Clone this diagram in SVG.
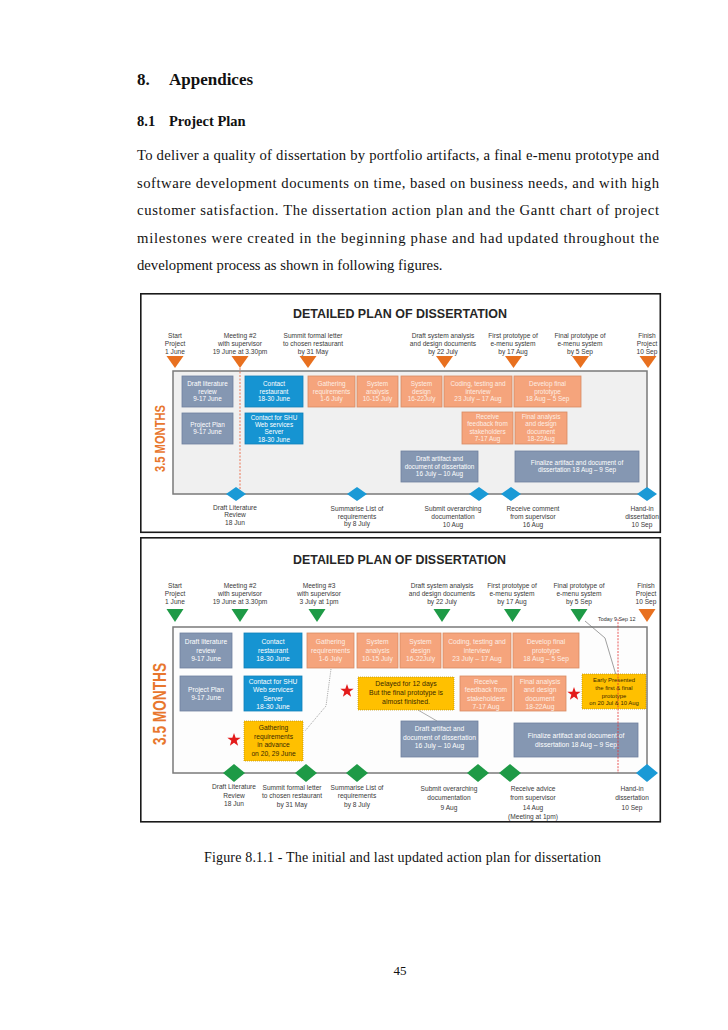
<svg xmlns="http://www.w3.org/2000/svg" xmlns:xlink="http://www.w3.org/1999/xlink" width="728" height="1030" viewBox="0 0 728 1030">
<style>
.pg{font-family:"Liberation Serif","Times New Roman",serif;fill:#111}
.h{font-weight:bold}
.ttl{font-family:"Liberation Sans",Arial,sans-serif;font-weight:bold;font-size:13px;fill:#262626}
.ml{font-family:"Liberation Sans",Arial,sans-serif;font-size:6.6px;fill:#3a3a3a;text-anchor:middle}
.td{font-family:"Liberation Sans",Arial,sans-serif;font-size:5.4px;fill:#333}
.bt{font-family:"Liberation Sans",Arial,sans-serif;font-size:6.4px;fill:#fff;text-anchor:middle}
.bt2{font-family:"Liberation Sans",Arial,sans-serif;font-size:6.7px;fill:#fff;text-anchor:middle}
.yt{font-family:"Liberation Sans",Arial,sans-serif;font-size:6.9px;fill:#3a2a00;text-anchor:middle}
.ys{font-size:5.9px}
.ya{font-size:6.7px}
.mo{font-family:"Liberation Sans",Arial,sans-serif;font-weight:bold;fill:#e8772e}
.slate{fill:#8597b2;stroke:#6e819e;stroke-width:0.8}
.blue{fill:#1694d2;stroke:#0f7fb8;stroke-width:0.8}
.sal{fill:#f5a47c;stroke:#d88a62;stroke-width:0.8}
.salt{fill:#fdeee4}
.yel{fill:#ffc000;stroke:#b88c00;stroke-width:0.7;stroke-dasharray:1 1}
.frame{fill:#fff;stroke:#1a1a1a;stroke-width:1.6}
.area{stroke:#7a7a7a;stroke-width:1.5}
.otri{fill:#e8701f}
.gtri{fill:#1e9a46}
.bdia{fill:#1a9ad6}
.gdia{fill:#1e9a46}
.red{fill:#e31b1b}
</style>
<defs>
<polygon id="star" points="0,-7 1.646,-2.265 6.657,-2.163 2.663,0.865 4.114,5.663 0,2.8 -4.114,5.663 -2.663,0.865 -6.657,-2.163 -1.646,-2.265"/>
</defs>
<rect width="728" height="1030" fill="#fff"/>

<g id="page-text">
<text class="pg h" x="137" y="85" font-size="17">8.</text>
<text class="pg h" x="169" y="85" font-size="17">Appendices</text>
<text class="pg h" x="137" y="126" font-size="14.5">8.1</text>
<text class="pg h" x="169" y="126" font-size="14.5">Project Plan</text>
<text class="pg" font-size="14.7" x="137" y="160" textLength="522" lengthAdjust="spacing">To deliver a quality of dissertation by portfolio artifacts, a final e-menu prototype and</text>
<text class="pg" font-size="14.7" x="137" y="187.5" textLength="522" lengthAdjust="spacing">software development documents on time, based on business needs, and with high</text>
<text class="pg" font-size="14.7" x="137" y="215" textLength="522" lengthAdjust="spacing">customer satisfaction. The dissertation action plan and the Gantt chart of project</text>
<text class="pg" font-size="14.7" x="137" y="242.5" textLength="522" lengthAdjust="spacing">milestones were created in the beginning phase and had updated throughout the</text>
<text class="pg" font-size="14.7" x="137" y="270">development process as shown in following figures.</text>
<text class="pg" font-size="14" x="204" y="862" textLength="397" lengthAdjust="spacing">Figure 8.1.1 - The initial and last updated action plan for dissertation</text>
<text class="pg" font-size="13" x="400" y="975" text-anchor="middle">45</text>
</g>

<!-- ================= DIAGRAM 1 ================= -->
<g id="diagram1">
<rect class="frame" x="140.8" y="293.8" width="519.5" height="238.5"/>
<text class="ttl" x="293" y="318" textLength="214" lengthAdjust="spacingAndGlyphs">DETAILED PLAN OF DISSERTATION</text>
<rect class="area" x="173" y="371" width="474" height="123" fill="#f0f0f0"/>
<text class="mo" font-size="15" transform="translate(165,472) rotate(-90)" textLength="67" lengthAdjust="spacingAndGlyphs">3.5 MONTHS</text>
</g>

<g id="d1-connectors" fill="none">
<line x1="240" y1="368" x2="240" y2="494" stroke="#e8552f" stroke-width="0.8" stroke-dasharray="2 1.5"/>
</g>

<g id="d1-milestones">
<g id="d1-m1"><polygon class="otri" points="166.5,356 183.5,356 175,368"/><text class="ml" x="175" y="337.5">Start</text><text class="ml" x="175" y="345.5">Project</text><text class="ml" x="175" y="353.5">1 June</text></g>
<g id="d1-m2"><polygon class="otri" points="231.5,356 248.5,356 240,368"/><text class="ml" x="240" y="337.5">Meeting #2</text><text class="ml" x="240" y="345.5">with supervisor</text><text class="ml" x="240" y="353.5">19 June at 3.30pm</text></g>
<g id="d1-m3"><polygon class="otri" points="299.5,356 316.5,356 308,368"/><text class="ml" x="313" y="337.5">Summit formal letter</text><text class="ml" x="313" y="345.5">to chosen restaurant</text><text class="ml" x="313" y="353.5">by 31  May</text></g>
<g id="d1-m4"><polygon class="otri" points="436,356 453,356 444.5,368"/><text class="ml" x="443" y="337.5">Draft system analysis</text><text class="ml" x="443" y="345.5">and design documents</text><text class="ml" x="443" y="353.5">by 22  July</text></g>
<g id="d1-m5"><polygon class="otri" points="505,356 522,356 513.5,368"/><text class="ml" x="513" y="337.5">First prototype of</text><text class="ml" x="513" y="345.5">e-menu system</text><text class="ml" x="513" y="353.5">by 17  Aug</text></g>
<g id="d1-m6"><polygon class="otri" points="572,356 589,356 580.5,368"/><text class="ml" x="580" y="337.5">Final prototype of</text><text class="ml" x="580" y="345.5">e-menu system</text><text class="ml" x="580" y="353.5">by 5 Sep</text></g>
<g id="d1-m7"><polygon class="otri" points="639.5,356 656.5,356 648,368"/><text class="ml" x="647" y="337.5">Finish</text><text class="ml" x="647" y="345.5">Project</text><text class="ml" x="647" y="353.5">10 Sep</text></g>
</g>

<g id="d1-tasks">
<g id="d1-draftlit"><rect class="slate" x="182" y="376" width="51" height="31"/><text class="bt" x="207.5" y="386.4">Draft literature</text><text class="bt" x="207.5" y="393.8">review</text><text class="bt" x="207.5" y="401.2">9-17 June</text></g>
<g id="d1-contact"><rect class="blue" x="245" y="376" width="58" height="31"/><text class="bt" x="274" y="386.4">Contact</text><text class="bt" x="274" y="393.8">restaurant</text><text class="bt" x="274" y="401.2">18-30 June</text></g>
<g id="d1-gather"><rect class="sal" x="308" y="376" width="47" height="31"/><text class="bt salt" x="331.5" y="386.4">Gathering</text><text class="bt salt" x="331.5" y="393.8">requirements</text><text class="bt salt" x="331.5" y="401.2">1-6 July</text></g>
<g id="d1-sysan"><rect class="sal" x="357" y="376" width="41" height="31"/><text class="bt salt" x="377.5" y="386.4">System</text><text class="bt salt" x="377.5" y="393.8">analysis</text><text class="bt salt" x="377.5" y="401.2">10-15 July</text></g>
<g id="d1-sysdes"><rect class="sal" x="401" y="376" width="41" height="31"/><text class="bt salt" x="421.5" y="386.4">System</text><text class="bt salt" x="421.5" y="393.8">design</text><text class="bt salt" x="421.5" y="401.2">16-22July</text></g>
<g id="d1-coding"><rect class="sal" x="444" y="376" width="68" height="31"/><text class="bt salt" x="478" y="386.4">Coding, testing and</text><text class="bt salt" x="478" y="393.8">interview</text><text class="bt salt" x="478" y="401.2">23 July – 17 Aug</text></g>
<g id="d1-develop"><rect class="sal" x="514" y="376" width="67" height="31"/><text class="bt salt" x="547.5" y="386.4">Develop final</text><text class="bt salt" x="547.5" y="393.8">prototype</text><text class="bt salt" x="547.5" y="401.2">18 Aug – 5 Sep</text></g>
<g id="d1-plan"><rect class="slate" x="182" y="413" width="51" height="31"/><text class="bt" x="207.5" y="426.5">Project Plan</text><text class="bt" x="207.5" y="433.9">9-17 June</text></g>
<g id="d1-shu"><rect class="blue" x="245" y="413" width="58" height="31"/><text class="bt" x="274" y="419.6">Contact for SHU</text><text class="bt" x="274" y="426.9">Web services</text><text class="bt" x="274" y="434.2">Server</text><text class="bt" x="274" y="441.5">18-30 June</text></g>
<g id="d1-feedback"><rect class="sal" x="462" y="412" width="51" height="32"/><text class="bt salt" x="487.5" y="419">Receive</text><text class="bt salt" x="487.5" y="426.3">feedback from</text><text class="bt salt" x="487.5" y="433.6">stakeholders</text><text class="bt salt" x="487.5" y="440.9">7-17 Aug</text></g>
<g id="d1-final"><rect class="sal" x="515" y="412" width="52" height="32"/><text class="bt salt" x="541" y="419">Final analysis</text><text class="bt salt" x="541" y="426.3">and design</text><text class="bt salt" x="541" y="433.6">document</text><text class="bt salt" x="541" y="440.9">18-22Aug</text></g>
<g id="d1-draftart"><rect class="slate" x="401" y="451" width="77" height="31"/><text class="bt" x="439.5" y="461.4">Draft artifact and</text><text class="bt" x="439.5" y="468.8">document of dissertation</text><text class="bt" x="439.5" y="476.2">16 July – 10 Aug</text></g>
<g id="d1-finalize"><rect class="slate" x="515" y="451" width="124" height="31"/><text class="bt" x="577" y="465">Finalize artifact and document of</text><text class="bt" x="577" y="472.4">dissertation 18 Aug – 9 Sep</text></g>
</g>

<g id="d1-deliverables">
<g id="d1-d1"><polygon class="bdia" points="226,494 236,487 246,494 236,501"/><text class="ml" x="235" y="509.5">Draft Literature</text><text class="ml" x="235" y="517">Review</text><text class="ml" x="235" y="524.5">18 Jun</text></g>
<g id="d1-d2"><polygon class="bdia" points="347,494 357,487 367,494 357,501"/><text class="ml" x="357" y="511">Summarise List of</text><text class="ml" x="357" y="518.5">requirements</text><text class="ml" x="357" y="526">by 8 July</text></g>
<g id="d1-d3"><polygon class="bdia" points="469,494 479,487 489,494 479,501"/><text class="ml" x="453" y="511">Submit overarching</text><text class="ml" x="453" y="519">documentation</text><text class="ml" x="453" y="527">10 Aug</text></g>
<g id="d1-d4"><polygon class="bdia" points="501,494 511,487 521,494 511,501"/><text class="ml" x="533" y="511">Receive  comment</text><text class="ml" x="533" y="519">from supervisor</text><text class="ml" x="533" y="527">16 Aug</text></g>
<g id="d1-d5"><polygon class="bdia" points="637,494 647,487 657,494 647,501"/><text class="ml" x="642" y="511">Hand-in</text><text class="ml" x="642" y="519">dissertation</text><text class="ml" x="642" y="527">10 Sep</text></g>
</g>

<!-- ================= DIAGRAM 2 ================= -->
<g id="diagram2">
<rect class="frame" x="140.8" y="537.8" width="519.5" height="284"/>
<text class="ttl" x="293" y="564" textLength="213" lengthAdjust="spacingAndGlyphs">DETAILED PLAN OF DISSERTATION</text>
<rect class="area" x="173" y="627" width="474" height="146" fill="#fdfdfd"/>
<text class="mo" font-size="18.5" transform="translate(165.5,745) rotate(-90)" textLength="82" lengthAdjust="spacingAndGlyphs">3.5 MONTHS</text>
<text class="td" x="598" y="621">Today 9 Sep 12</text>
</g>

<g id="d2-milestones">
<g id="d2-m1"><polygon class="gtri" points="166.5,609 183.5,609 175,622"/><text class="ml" x="175" y="588">Start</text><text class="ml" x="175" y="596">Project</text><text class="ml" x="175" y="604">1 June</text></g>
<g id="d2-m2"><polygon class="gtri" points="231.5,609 248.5,609 240,622"/><text class="ml" x="240" y="588">Meeting #2</text><text class="ml" x="240" y="596">with supervisor</text><text class="ml" x="240" y="604">19 June at 3.30pm</text></g>
<g id="d2-m3"><polygon class="gtri" points="308.5,609 325.5,609 317,622"/><text class="ml" x="319" y="588">Meeting #3</text><text class="ml" x="319" y="596">with supervisor</text><text class="ml" x="319" y="604">3 July at 1pm</text></g>
<g id="d2-m4"><polygon class="gtri" points="433.5,609 450.5,609 442,622"/><text class="ml" x="442" y="588">Draft system analysis</text><text class="ml" x="442" y="596">and design documents</text><text class="ml" x="442" y="604">by 22  July</text></g>
<g id="d2-m5"><polygon class="gtri" points="504,609 521,609 512.5,622"/><text class="ml" x="512" y="588">First prototype of</text><text class="ml" x="512" y="596">e-menu system</text><text class="ml" x="512" y="604">by 17  Aug</text></g>
<g id="d2-m6"><polygon class="gtri" points="570.5,609 587.5,609 579,622"/><text class="ml" x="579" y="588">Final prototype of</text><text class="ml" x="579" y="596">e-menu system</text><text class="ml" x="579" y="604">by 5 Sep</text></g>
<g id="d2-m7"><polygon class="otri" points="638.5,609 655.5,609 647,622"/><text class="ml" x="646" y="588">Finish</text><text class="ml" x="646" y="596">Project</text><text class="ml" x="646" y="604">10 Sep</text></g>
</g>

<g id="d2-connectors" fill="none">
<polyline points="331,669 326,706 305,731" stroke="#8a8a8a" stroke-width="0.7" stroke-dasharray="1.2 1"/>
<line x1="418" y1="710" x2="437" y2="721" stroke="#8a8a8a" stroke-width="0.7"/>
<polyline points="585,621 605,638 616,675" stroke="#777" stroke-width="0.7"/>
</g>

<g id="d2-tasks">
<g id="d2-draftlit"><rect class="slate" x="180" y="633" width="52" height="35"/><text class="bt2" x="206" y="644">Draft literature</text><text class="bt2" x="206" y="652.7">review</text><text class="bt2" x="206" y="661.4">9-17 June</text></g>
<g id="d2-contact"><rect class="blue" x="244" y="633" width="58" height="35"/><text class="bt2" x="273" y="644">Contact</text><text class="bt2" x="273" y="652.7">restaurant</text><text class="bt2" x="273" y="661.4">18-30 June</text></g>
<g id="d2-gather"><rect class="sal" x="307" y="633" width="47" height="35"/><text class="bt2 salt" x="330.5" y="644">Gathering</text><text class="bt2 salt" x="330.5" y="652.7">requirements</text><text class="bt2 salt" x="330.5" y="661.4">1-6 July</text></g>
<g id="d2-sysan"><rect class="sal" x="357" y="633" width="41" height="35"/><text class="bt2 salt" x="377.5" y="644">System</text><text class="bt2 salt" x="377.5" y="652.7">analysis</text><text class="bt2 salt" x="377.5" y="661.4">10-15 July</text></g>
<g id="d2-sysdes"><rect class="sal" x="400" y="633" width="41" height="35"/><text class="bt2 salt" x="420.5" y="644">System</text><text class="bt2 salt" x="420.5" y="652.7">design</text><text class="bt2 salt" x="420.5" y="661.4">16-22July</text></g>
<g id="d2-coding"><rect class="sal" x="443" y="633" width="68" height="35"/><text class="bt2 salt" x="477" y="644">Coding, testing and</text><text class="bt2 salt" x="477" y="652.7">interview</text><text class="bt2 salt" x="477" y="661.4">23 July – 17 Aug</text></g>
<g id="d2-develop"><rect class="sal" x="513" y="633" width="66" height="35"/><text class="bt2 salt" x="546" y="644">Develop final</text><text class="bt2 salt" x="546" y="652.7">prototype</text><text class="bt2 salt" x="546" y="661.4">18 Aug – 5 Sep</text></g>
<g id="d2-plan"><rect class="slate" x="180" y="676" width="52" height="35"/><text class="bt2" x="206" y="691.5">Project Plan</text><text class="bt2" x="206" y="700.2">9-17 June</text></g>
<g id="d2-shu"><rect class="blue" x="244" y="676" width="58" height="35"/><text class="bt2" x="273" y="683.5">Contact for SHU</text><text class="bt2" x="273" y="692">Web services</text><text class="bt2" x="273" y="700.5">Server</text><text class="bt2" x="273" y="709">18-30 June</text></g>
<g id="d2-delayed"><rect class="yel" x="358" y="677" width="96" height="33"/><text class="yt" x="406" y="686">Delayed for 12 days</text><text class="yt" x="406" y="695">But the final prototype is</text><text class="yt" x="406" y="704">almost finished.</text></g>
<g id="d2-feedback"><rect class="sal" x="460" y="676" width="52" height="35"/><text class="bt2 salt" x="486" y="683.5">Receive</text><text class="bt2 salt" x="486" y="692">feedback from</text><text class="bt2 salt" x="486" y="700.5">stakeholders</text><text class="bt2 salt" x="486" y="709">7-17 Aug</text></g>
<g id="d2-final"><rect class="sal" x="514" y="676" width="52" height="35"/><text class="bt2 salt" x="540" y="683.5">Final analysis</text><text class="bt2 salt" x="540" y="692">and design</text><text class="bt2 salt" x="540" y="700.5">document</text><text class="bt2 salt" x="540" y="709">18-22Aug</text></g>
<g id="d2-early"><rect class="yel" x="582" y="674" width="64" height="35"/><text class="yt ys" x="614" y="682">Early Presented</text><text class="yt ys" x="614" y="689.8">the first &amp; final</text><text class="yt ys" x="614" y="697.6">prototype</text><text class="yt ys" x="614" y="705.4">on 20 Jul &amp; 10 Aug</text></g>
<g id="d2-advance"><rect class="yel" x="244" y="721" width="59" height="40"/><text class="yt ya" x="273.5" y="730">Gathering</text><text class="yt ya" x="273.5" y="738.7">requirements</text><text class="yt ya" x="273.5" y="747.4">in advance</text><text class="yt ya" x="273.5" y="756.1">on 20, 29 June</text></g>
<g id="d2-draftart"><rect class="slate" x="401" y="721" width="77" height="36"/><text class="bt2" x="439.5" y="731">Draft artifact and</text><text class="bt2" x="439.5" y="739.7">document of dissertation</text><text class="bt2" x="439.5" y="748.4">16 July – 10 Aug</text></g>
<g id="d2-finalize"><rect class="slate" x="514" y="723" width="124" height="34"/><text class="bt2" x="576" y="738">Finalize artifact and document of</text><text class="bt2" x="576" y="746.7">dissertation 18 Aug – 9 Sep</text></g>
</g>

<g id="d2-today-line" fill="none">
<line x1="618" y1="619" x2="618" y2="773" stroke="#e53030" stroke-width="0.8" stroke-dasharray="2 1.2"/>
</g>

<g id="d2-stars">
<use xlink:href="#star" href="#star" class="red" x="347" y="691"/>
<use xlink:href="#star" href="#star" class="red" x="574" y="694"/>
<use xlink:href="#star" href="#star" class="red" x="234" y="740"/>
</g>

<g id="d2-deliverables">
<g id="d2-d1"><polygon class="gdia" points="223,773 234,764 245,773 234,782"/><text class="ml" x="234" y="789">Draft Literature</text><text class="ml" x="234" y="797.5">Review</text><text class="ml" x="234" y="806">18 Jun</text></g>
<g id="d2-d2"><polygon class="gdia" points="295,773 306,764 317,773 306,782"/><text class="ml" x="292" y="789.5">Summit formal letter</text><text class="ml" x="292" y="798">to chosen restaurant</text><text class="ml" x="292" y="806.5">by 31  May</text></g>
<g id="d2-d3"><polygon class="gdia" points="346,773 357,764 368,773 357,782"/><text class="ml" x="357" y="789.5">Summarise List of</text><text class="ml" x="357" y="798">requirements</text><text class="ml" x="357" y="806.5">by 8 July</text></g>
<g id="d2-d4"><polygon class="gdia" points="467,773 478,764 489,773 478,782"/><text class="ml" x="449" y="790.5">Submit overarching</text><text class="ml" x="449" y="800">documentation</text><text class="ml" x="449" y="809.5">9 Aug</text></g>
<g id="d2-d5"><polygon class="gdia" points="499,773 510,764 521,773 510,782"/><text class="ml" x="533" y="790.5">Receive  advice</text><text class="ml" x="533" y="800">from supervisor</text><text class="ml" x="533" y="809.5">14 Aug</text><text class="ml" x="533" y="818.5">(Meeting at 1pm)</text></g>
<g id="d2-d6"><polygon class="bdia" points="636,773 647,764 658,773 647,782"/><text class="ml" x="632" y="790.5">Hand-in</text><text class="ml" x="632" y="800">dissertation</text><text class="ml" x="632" y="809.5">10 Sep</text></g>
</g>
</svg>
